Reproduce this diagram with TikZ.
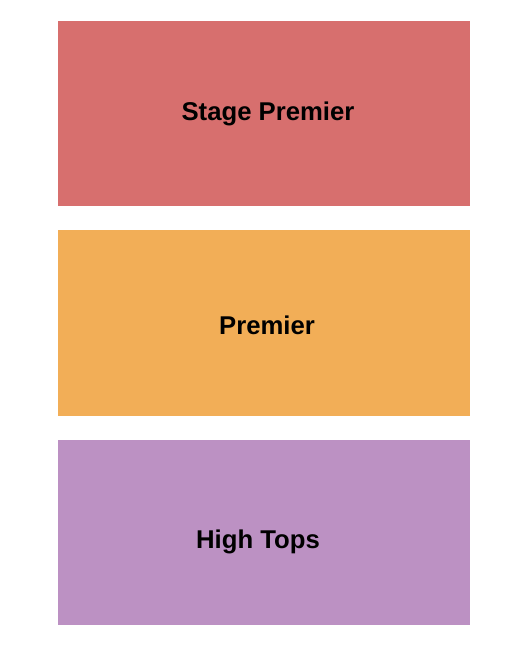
\documentclass[tikz,border=0pt]{standalone}
\usepackage{fontspec}
\setmainfont{Liberation Sans}
\definecolor{cred}{HTML}{D76F6E}
\definecolor{corange}{HTML}{F2AE57}
\definecolor{cpurple}{HTML}{BC91C3}
\begin{document}
\begin{tikzpicture}[x=1bp,y=-1bp,
  zone/.style={inner sep=0pt,outer sep=0pt},
  lbl/.style={anchor=base,inner sep=0pt,font=\fontsize{25.8}{30}\selectfont\bfseries,text=black}]
\useasboundingbox (0,0) rectangle (525,650);
\fill[cred] (58,21) rectangle (470,206);
\fill[corange] (58,230) rectangle (470,415.5);
\fill[cpurple] (58,440) rectangle (470,625);
\node[lbl] (sp) at (268,121) {Stage Premier};
\node[lbl] (pr) at (267,334.3) {Premier};
\node[lbl] (ht) at (258,548.3) {High Tops};
\end{tikzpicture}
\end{document}
